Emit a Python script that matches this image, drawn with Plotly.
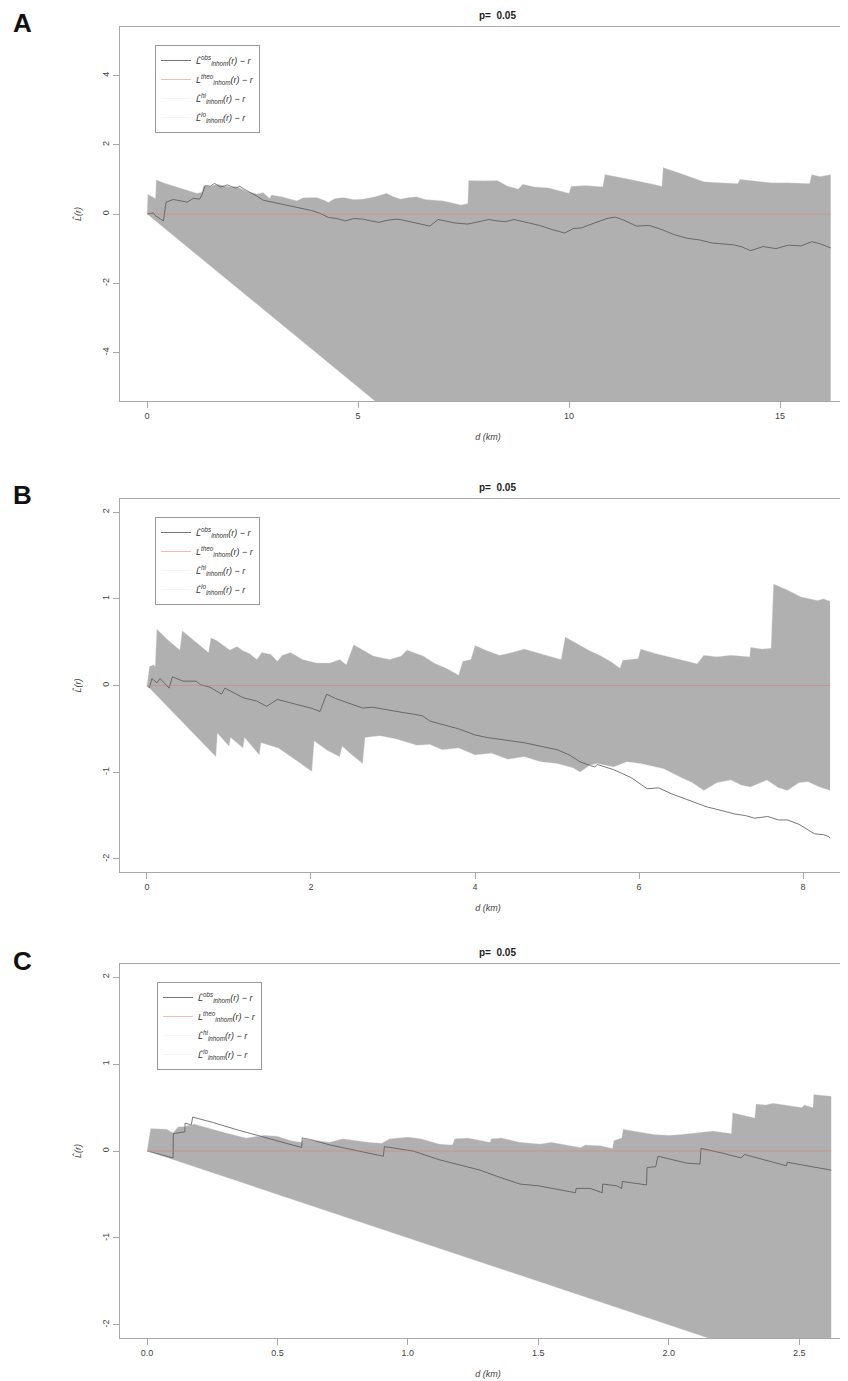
import plotly.graph_objects as go

# ---------------- Panel A data ----------------
A_hi_r = [0, 0.02, 0.2, 0.22, 0.39, 0.6, 0.78, 1.0, 1.18, 1.3, 1.34, 1.5, 1.65, 1.9, 2.13, 2.25, 2.4, 2.6, 2.75, 2.91, 2.95, 3.2, 3.55, 3.7, 4.02, 4.2, 4.3, 4.45, 4.65, 4.9, 5.13, 5.4, 5.68, 5.8, 6.0, 6.2, 6.39, 6.6, 6.8, 7.0, 7.2, 7.44, 7.6, 7.62, 8.0, 8.3, 8.55, 8.8, 8.9, 9.2, 9.5, 9.8, 10.0, 10.05, 10.4, 10.8, 10.85, 11.2, 11.6, 12.0, 12.2, 12.23, 12.65, 13.0, 13.2, 13.6, 14.0, 14.05, 14.4, 14.8, 15.2, 15.5, 15.7, 15.75, 15.95, 16.2]
A_hi = [0, 0.57, 0.45, 0.99, 0.9, 0.82, 0.76, 0.68, 0.6, 0.63, 0.82, 0.8, 0.86, 0.8, 0.79, 0.72, 0.65, 0.58, 0.62, 0.45, 0.55, 0.5, 0.38, 0.47, 0.48, 0.4, 0.34, 0.45, 0.48, 0.42, 0.43, 0.5, 0.6, 0.52, 0.43, 0.48, 0.5, 0.42, 0.4, 0.38, 0.33, 0.26, 0.3, 0.97, 0.96, 0.97, 0.8, 0.72, 0.86, 0.78, 0.76, 0.66, 0.6, 0.8, 0.82, 0.79, 1.14, 1.06, 0.97, 0.86, 0.8, 1.34, 1.17, 1.02, 0.93, 0.9, 0.88, 1.0, 0.95, 0.9, 0.9, 0.9, 0.88, 1.14, 1.08, 1.14]
A_lo_r = [0, 1, 2, 3, 4, 5, 6, 8, 10, 12, 14, 16.2]
A_lo = [0, -1, -2, -3, -4, -5, -6, -8, -10, -12, -14, -16.2]
A_obs_r = [0, 0.15, 0.2, 0.39, 0.45, 0.62, 0.8, 0.95, 1.1, 1.25, 1.3, 1.38, 1.5, 1.6, 1.75, 1.9, 2.1, 2.2, 2.3, 2.45, 2.6, 2.75, 2.95, 3.15, 3.35, 3.55, 3.7, 3.9, 4.1, 4.3, 4.5, 4.7, 4.9, 5.13, 5.3, 5.5, 5.7, 5.9, 6.0, 6.2, 6.45, 6.7, 6.9, 7.1, 7.3, 7.6, 7.8, 8.1, 8.3, 8.5, 8.7, 8.9, 9.1, 9.3, 9.6, 9.9, 10.1, 10.3, 10.6, 10.9, 11.1, 11.3, 11.6, 11.9, 12.2, 12.5, 12.8, 13.1, 13.4, 13.7, 13.9, 14.1, 14.3, 14.6, 14.9, 15.2, 15.5, 15.75, 15.95, 16.2]
A_obs = [0, 0.03, -0.05, -0.2, 0.34, 0.42, 0.38, 0.34, 0.45, 0.43, 0.55, 0.82, 0.8, 0.88, 0.78, 0.84, 0.75, 0.8, 0.72, 0.63, 0.52, 0.4, 0.35, 0.29, 0.25, 0.19, 0.16, 0.1, 0.02, -0.1, -0.13, -0.2, -0.13, -0.15, -0.2, -0.24, -0.18, -0.15, -0.16, -0.22, -0.28, -0.35, -0.16, -0.22, -0.26, -0.29, -0.24, -0.16, -0.2, -0.22, -0.16, -0.22, -0.28, -0.33, -0.45, -0.55, -0.42, -0.4, -0.26, -0.13, -0.09, -0.18, -0.35, -0.33, -0.45, -0.6, -0.7, -0.75, -0.84, -0.86, -0.89, -0.95, -1.06, -0.94, -1.0, -0.9, -0.92, -0.8, -0.86, -0.98]
A_xticks = [0, 5, 10, 15]
A_xlabels = ["0", "5", "10", "15"]
A_yticks = [-4, -2, 0, 2, 4]
A_ylabels = ["-4", "-2", "0", "2", "4"]

# ---------------- Panel B data ----------------
B_hi_r = [0, 0.03, 0.08, 0.1, 0.12, 0.25, 0.4, 0.43, 0.6, 0.75, 0.78, 0.85, 1.01, 1.1, 1.17, 1.25, 1.34, 1.4, 1.51, 1.59, 1.65, 1.75, 1.9, 2.07, 2.23, 2.35, 2.43, 2.52, 2.65, 2.76, 2.96, 3.1, 3.17, 3.3, 3.37, 3.5, 3.65, 3.8, 3.85, 3.95, 4.0, 4.15, 4.3, 4.45, 4.6, 4.75, 4.9, 5.05, 5.1, 5.28, 5.4, 5.52, 5.65, 5.77, 5.8, 5.99, 6.02, 6.2, 6.34, 6.5, 6.71, 6.79, 6.95, 7.12, 7.35, 7.36, 7.5, 7.61, 7.64, 7.81, 7.98, 8.1, 8.18, 8.25, 8.33]
B_hi = [0, 0.22, 0.24, 0.22, 0.65, 0.53, 0.41, 0.63, 0.5, 0.38, 0.55, 0.52, 0.41, 0.45, 0.4, 0.37, 0.3, 0.38, 0.36, 0.28, 0.35, 0.38, 0.3, 0.26, 0.26, 0.3, 0.24, 0.47, 0.4, 0.34, 0.3, 0.34, 0.41, 0.36, 0.34, 0.26, 0.2, 0.12, 0.28, 0.3, 0.46, 0.4, 0.35, 0.38, 0.42, 0.38, 0.34, 0.3, 0.56, 0.46, 0.4, 0.35, 0.28, 0.2, 0.29, 0.31, 0.42, 0.37, 0.34, 0.3, 0.25, 0.35, 0.33, 0.35, 0.33, 0.44, 0.42, 0.43, 1.17, 1.1, 1.02, 1.0, 0.98, 1.0, 0.97]
B_lo_r = [0, 0.84, 0.86, 1.0, 1.02, 1.17, 1.19, 1.37, 1.39, 1.6, 1.8, 2.01, 2.04, 2.2, 2.35, 2.38, 2.5, 2.63, 2.66, 2.84, 3.05, 3.29, 3.45, 3.6, 3.8, 4.0, 4.2, 4.4, 4.6, 4.8, 5.0, 5.2, 5.28, 5.4, 5.49, 5.69, 5.85, 6.02, 6.3, 6.51, 6.65, 6.79, 6.95, 7.12, 7.25, 7.36, 7.56, 7.7, 7.81, 7.95, 8.06, 8.2, 8.27, 8.33]
B_lo = [0, -0.82, -0.55, -0.7, -0.6, -0.72, -0.6, -0.8, -0.66, -0.72, -0.85, -0.99, -0.64, -0.75, -0.82, -0.7, -0.8, -0.9, -0.6, -0.58, -0.62, -0.69, -0.68, -0.74, -0.72, -0.8, -0.78, -0.85, -0.82, -0.88, -0.9, -0.95, -1.0, -0.92, -0.9, -0.94, -0.88, -0.9, -0.96, -1.06, -1.12, -1.21, -1.12, -1.09, -1.15, -1.17, -1.09, -1.18, -1.21, -1.12, -1.11, -1.17, -1.19, -1.21]
B_obs_r = [0, 0.03, 0.06, 0.12, 0.16, 0.27, 0.31, 0.44, 0.6, 0.65, 0.77, 0.91, 0.95, 1.05, 1.17, 1.34, 1.46, 1.59, 1.7, 1.83, 2.0, 2.11, 2.19, 2.3, 2.39, 2.5, 2.63, 2.75, 2.87, 3.0, 3.11, 3.25, 3.36, 3.45, 3.6, 3.8, 4.0, 4.15, 4.3, 4.45, 4.6, 4.8, 5.0, 5.15, 5.28, 5.46, 5.49, 5.69, 5.9, 6.1, 6.24, 6.4, 6.51, 6.65, 6.83, 7.0, 7.16, 7.3, 7.41, 7.57, 7.7, 7.81, 7.95, 8.14, 8.25, 8.31, 8.33]
B_obs = [0, -0.03, 0.08, 0.03, 0.08, -0.03, 0.1, 0.05, 0.05, 0.01, -0.02, -0.1, -0.03, -0.08, -0.14, -0.18, -0.24, -0.16, -0.19, -0.22, -0.26, -0.3, -0.1, -0.15, -0.18, -0.22, -0.26, -0.25, -0.27, -0.3, -0.31, -0.33, -0.35, -0.41, -0.45, -0.5, -0.57, -0.6, -0.62, -0.64, -0.66, -0.7, -0.74, -0.8, -0.88, -0.94, -0.91, -0.97, -1.06, -1.19, -1.18, -1.25, -1.29, -1.34, -1.4, -1.44, -1.48, -1.5, -1.53, -1.51, -1.55, -1.55, -1.6, -1.71, -1.72, -1.74, -1.76]
B_xticks = [0, 2, 4, 6, 8]
B_xlabels = ["0", "2", "4", "6", "8"]
B_yticks = [-2, -1, 0, 1, 2]
B_ylabels = ["-2", "-1", "0", "1", "2"]

# ---------------- Panel C data ----------------
C_hi_r = [0, 0.014, 0.075, 0.1, 0.12, 0.14, 0.18, 0.25, 0.3, 0.38, 0.45, 0.5, 0.55, 0.59, 0.6, 0.7, 0.75, 0.85, 0.9, 0.93, 1.0, 1.05, 1.12, 1.17, 1.18, 1.23, 1.315, 1.32, 1.36, 1.43, 1.508, 1.55, 1.662, 1.68, 1.74, 1.784, 1.79, 1.82, 1.825, 1.945, 2.0, 2.047, 2.1, 2.169, 2.24, 2.245, 2.33, 2.335, 2.37, 2.4, 2.51, 2.52, 2.553, 2.556, 2.623]
C_hi = [0, 0.26, 0.25, 0.21, 0.28, 0.28, 0.31, 0.25, 0.21, 0.15, 0.18, 0.17, 0.12, 0.1, 0.14, 0.1, 0.14, 0.1, 0.09, 0.14, 0.16, 0.14, 0.08, 0.07, 0.14, 0.15, 0.1, 0.14, 0.15, 0.1, 0.08, 0.1, 0.04, 0.07, 0.06, 0.03, 0.12, 0.15, 0.25, 0.19, 0.18, 0.19, 0.21, 0.23, 0.2, 0.44, 0.38, 0.54, 0.53, 0.55, 0.5, 0.53, 0.5, 0.65, 0.63]
C_lo_r = [0, 0.5, 1.0, 1.5, 2.0, 2.5, 2.623]
C_lo = [0, -0.5, -1.0, -1.5, -2.0, -2.5, -2.623]
C_obs_r = [0, 0.1, 0.101, 0.12, 0.145, 0.146, 0.17, 0.175, 0.25, 0.35, 0.45, 0.593, 0.595, 0.63, 0.7, 0.8, 0.906, 0.91, 1.02, 1.12, 1.2, 1.277, 1.35, 1.43, 1.5, 1.566, 1.643, 1.645, 1.7, 1.745, 1.747, 1.8, 1.82, 1.822, 1.915, 1.917, 1.95, 1.959, 2.07, 2.12, 2.124, 2.2, 2.278, 2.29, 2.451, 2.455, 2.53, 2.623]
C_obs = [0, -0.08, 0.2, 0.21, 0.22, 0.32, 0.3, 0.39, 0.33, 0.24, 0.16, 0.04, 0.15, 0.13, 0.07, 0.01, -0.06, 0.05, 0.0, -0.1, -0.16, -0.22, -0.3, -0.38, -0.4, -0.44, -0.48, -0.43, -0.43, -0.48, -0.38, -0.4, -0.43, -0.35, -0.39, -0.19, -0.18, -0.06, -0.14, -0.15, 0.03, -0.02, -0.08, -0.04, -0.17, -0.13, -0.17, -0.22]
C_xticks = [0.0, 0.5, 1.0, 1.5, 2.0, 2.5]
C_xlabels = ["0.0", "0.5", "1.0", "1.5", "2.0", "2.5"]
C_yticks = [-2, -1, 0, 1, 2]
C_ylabels = ["-2", "-1", "0", "1", "2"]

panel_letters = ["A", "B", "C"]
title_text = "p=  0.05"
legend_names = [
    "<i>L̂</i><sup><i>obs</i></sup><sub><i>inhom</i></sub><i>(r) − r</i>",
    "<i>L</i><sup><i>theo</i></sup><sub><i>inhom</i></sub><i>(r) − r</i>",
    "<i>L̂</i><sup><i>hi</i></sup><sub><i>inhom</i></sub><i>(r) − r</i>",
    "<i>L̂</i><sup><i>lo</i></sup><sub><i>inhom</i></sub><i>(r) − r</i>",
]

# ---------------- layout geometry (viewport pixels; page has an 8px body margin) ----------------
W, H = 848, 1381
OFF = 8
FONT = "Liberation Sans Narrow, Liberation Sans, Arial, sans-serif"
panels = [
    dict(data=(A_hi_r, A_hi, A_lo_r, A_lo, A_obs_r, A_obs), top=27, bot=401,
         xr=[-0.64, 16.80], yr=[-5.4, 5.4], xt=(A_xticks, A_xlabels), yt=(A_yticks, A_ylabels),
         leg=(155, 45), title_y=15, letter_y=23),
    dict(data=(B_hi_r, B_hi, B_lo_r, B_lo, B_obs_r, B_obs), top=499, bot=872,
         xr=[-0.329, 8.646], yr=[-2.15, 2.15], xt=(B_xticks, B_xlabels), yt=(B_yticks, B_ylabels),
         leg=(155, 517), title_y=488, letter_y=495),
    dict(data=(C_hi_r, C_hi, C_lo_r, C_lo, C_obs_r, C_obs), top=964, bot=1338,
         xr=[-0.1035, 2.718], yr=[-2.15, 2.15], xt=(C_xticks, C_xlabels), yt=(C_yticks, C_ylabels),
         leg=(157, 982), title_y=953, letter_y=961),
]
LEFT = 120


def fx(px):
    return (px - OFF) / W


def fy(py):
    return 1 - (py - OFF) / H


fig = go.Figure()
layout = dict(
    width=W, height=H,
    margin=dict(l=0, r=0, t=0, b=0, autoexpand=False),
    paper_bgcolor="white", plot_bgcolor="white",
    font=dict(family=FONT, size=9, color="#444"),
    annotations=[],
)

GRAY = "#B0B0B0"
for i, p in enumerate(panels):
    k = "" if i == 0 else str(i + 1)
    xa, ya = "x" + k, "y" + k
    legname = "legend" if i == 0 else "legend" + str(i + 1)
    hi_r, hi, lo_r, lo, obs_r, obs = p["data"]
    # shaded envelope polygon
    fig.add_trace(go.Scatter(
        x=list(hi_r) + list(lo_r)[::-1], y=list(hi) + list(lo)[::-1],
        fill="toself", fillcolor=GRAY, mode="lines", line=dict(width=0, color=GRAY),
        showlegend=False, hoverinfo="skip", xaxis=xa, yaxis=ya))
    rmax = obs_r[-1]
    fig.add_trace(go.Scatter(x=obs_r, y=obs, mode="lines", name=legend_names[0],
                             line=dict(color="#555555", width=0.8), xaxis=xa, yaxis=ya, legend=legname))
    fig.add_trace(go.Scatter(x=[0, rmax], y=[0, 0], mode="lines", name=legend_names[1],
                             line=dict(color="rgba(225,120,100,0.7)", width=0.7), xaxis=xa, yaxis=ya, legend=legname))
    fig.add_trace(go.Scatter(x=hi_r, y=hi, mode="lines", name=legend_names[2],
                             line=dict(color="rgba(225,225,225,0.6)", width=0.6), xaxis=xa, yaxis=ya, legend=legname))
    fig.add_trace(go.Scatter(x=lo_r, y=lo, mode="lines", name=legend_names[3],
                             line=dict(color="rgba(225,225,225,0.6)", width=0.6), xaxis=xa, yaxis=ya, legend=legname))

    layout["xaxis" + k] = dict(
        domain=[fx(LEFT), 1.0], range=p["xr"], anchor=ya,
        showgrid=False, zeroline=False, showline=True, mirror=True, linecolor="#A8A8A8", linewidth=1,
        ticks="outside", ticklen=6, tickcolor="#A8A8A8",
        tickvals=p["xt"][0], ticktext=p["xt"][1], tickfont=dict(size=9, color="#444"),
        title=dict(text="<i>d (km)</i>", font=dict(size=9, color="#444"), standoff=13),
    )
    layout["yaxis" + k] = dict(
        domain=[fy(p["bot"]), fy(p["top"])], range=p["yr"], anchor=xa,
        showgrid=False, zeroline=False, showline=True, linecolor="#A8A8A8", linewidth=1,
        ticks="outside", ticklen=6, tickcolor="#A8A8A8", tickangle=-90,
        tickvals=p["yt"][0], ticktext=p["yt"][1], tickfont=dict(size=9, color="#444"),
        title=dict(text="<i>L̂(r)</i>", font=dict(size=9, color="#444"), standoff=18),
    )
    layout[legname] = dict(
        x=fx(p["leg"][0]), y=fy(p["leg"][1]), xanchor="left", yanchor="top",
        xref="paper", yref="paper",
        bgcolor="white", bordercolor="#999999", borderwidth=1,
        font=dict(size=9, color="#333"), tracegroupgap=0,
    )
    layout["annotations"].append(dict(
        text="<b>" + title_text + "</b>", x=fx(497), y=fy(p["title_y"]), xanchor="center", yanchor="middle",
        xref="paper", yref="paper", showarrow=False, font=dict(size=10, color="#222")))
    layout["annotations"].append(dict(
        text="<b>" + panel_letters[i] + "</b>", x=fx(22), y=fy(p["letter_y"]), xanchor="center", yanchor="middle",
        xref="paper", yref="paper", showarrow=False,
        font=dict(size=26, color="#111", family="Liberation Sans, Arial")))

fig.update_layout(**layout)
fig.write_html("out.html")
